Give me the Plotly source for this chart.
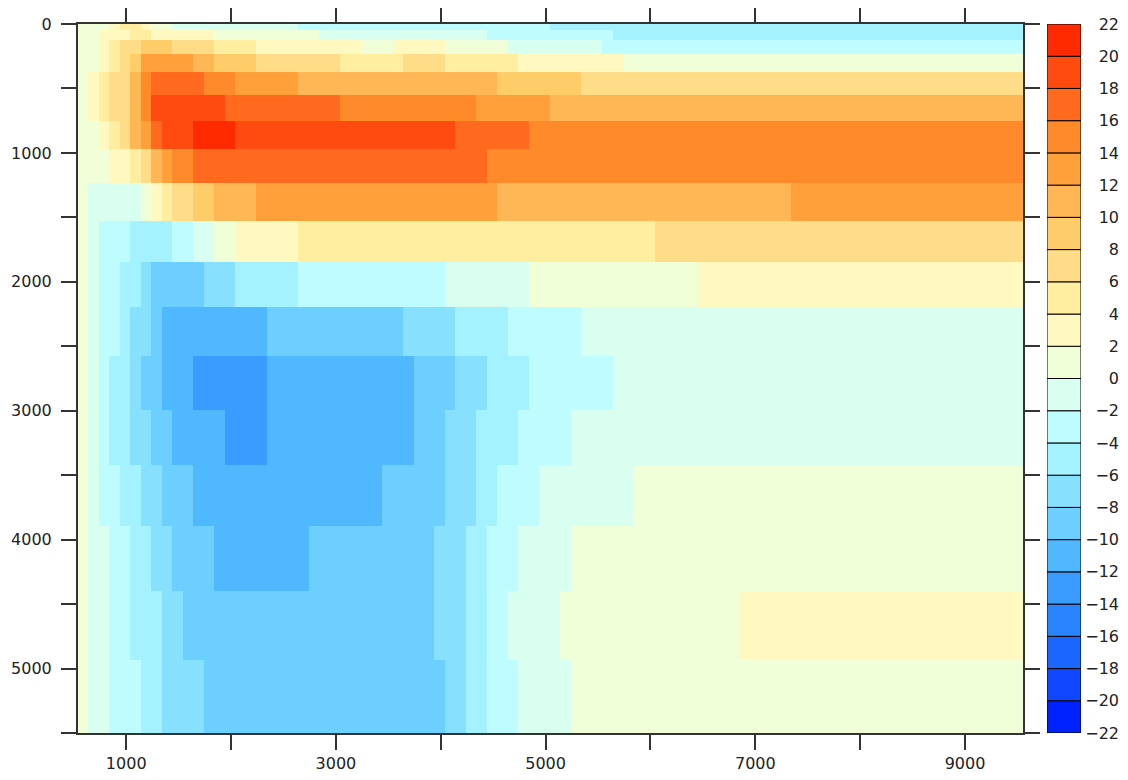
import plotly.graph_objects as go

# grid cell edges: distance (x) and depth (y)
dist_edges = list(range(540, 9441, 100)) + [9555]
depth_edges = [0, 46, 126, 232, 372, 548, 749, 973, 1233, 1526, 1844,
               2198, 2578, 2992, 3424, 3897, 4401, 4931, 5500]

# each depth row: (first column index, contour-bin midpoint) runs
rows = [
    [(0, 1), (3, 3), (4, 5), (6, 3), (7, 1), (9, -1), (21, -3), (45, -5)],
    [(0, 1), (2, 3), (5, 5), (7, 3), (13, 1), (23, -1), (39, -3), (51, -5)],
    [(0, 1), (2, 3), (3, 5), (4, 7), (6, 9), (9, 7), (13, 5), (17, 3), (27, 1),
     (30, 3), (35, 1), (41, -1), (50, -3)],
    [(0, 1), (2, 3), (3, 5), (4, 7), (5, 9), (6, 13), (11, 11), (13, 9), (17, 7),
     (25, 5), (31, 7), (35, 5), (42, 3), (52, 1)],
    [(0, 1), (1, 3), (2, 5), (3, 7), (5, 11), (6, 15), (7, 17), (12, 15), (15, 13),
     (21, 11), (40, 9), (48, 7)],
    [(0, 1), (1, 3), (2, 5), (3, 7), (5, 11), (6, 15), (7, 19), (14, 17), (25, 15),
     (38, 13), (45, 11)],
    [(0, 1), (2, 3), (3, 5), (4, 7), (5, 11), (6, 13), (7, 17), (8, 19), (11, 21),
     (15, 19), (36, 17), (43, 15)],
    [(0, 1), (3, 3), (5, 5), (6, 7), (7, 11), (8, 13), (9, 15), (11, 17), (39, 15)],
    [(0, 1), (1, -1), (6, 1), (7, 3), (8, 5), (9, 7), (11, 9), (13, 11), (17, 13),
     (40, 11), (68, 13)],
    [(0, 1), (1, -1), (2, -3), (5, -5), (9, -3), (11, -1), (13, 1), (15, 3), (21, 5),
     (55, 7)],
    [(0, 1), (1, -1), (2, -3), (4, -5), (6, -7), (7, -9), (12, -7), (15, -5), (21, -3),
     (35, -1), (43, 1), (59, 3)],
    [(0, 1), (1, -1), (2, -3), (4, -5), (5, -7), (7, -9), (8, -11), (18, -9), (31, -7),
     (36, -5), (41, -3), (48, -1)],
    [(0, 1), (1, -1), (2, -3), (3, -5), (5, -7), (6, -9), (8, -11), (11, -13), (18, -11),
     (32, -9), (36, -7), (39, -5), (43, -3), (51, -1)],
    [(0, 1), (1, -1), (2, -3), (3, -5), (5, -7), (7, -9), (9, -11), (14, -13), (18, -11),
     (32, -9), (35, -7), (38, -5), (42, -3), (47, -1)],
    [(0, 1), (1, -1), (2, -3), (4, -5), (6, -7), (8, -9), (11, -11), (29, -9), (35, -7),
     (38, -5), (40, -3), (44, -1), (53, 1)],
    [(0, 1), (1, -1), (3, -3), (5, -5), (7, -7), (9, -9), (13, -11), (22, -9), (34, -7),
     (37, -5), (39, -3), (42, -1), (47, 1)],
    [(0, 1), (1, -1), (3, -3), (5, -5), (8, -7), (10, -9), (34, -7), (37, -5), (39, -3),
     (41, -1), (46, 1), (63, 3)],
    [(0, 1), (1, -1), (3, -3), (6, -5), (8, -7), (12, -9), (35, -7), (37, -5), (39, -3),
     (42, -1), (47, 1)],
]

# contour levels and fill colours (bins of 2 from -22 to 22)
levels = list(range(-22, 23, 2))
colors = ['#0022FF', '#1046FF', '#1A66FF', '#2A84FF', '#3A9CFF', '#50B8FF',
          '#6DCFFF', '#88E0FF', '#A4F2FF', '#BFFCFF', '#D8FFF0', '#F0FFD8',
          '#FFF8C0', '#FFEDA0', '#FFDD88', '#FFCC6A', '#FFB655', '#FFA03A',
          '#FF8A2A', '#FF6A1E', '#FF4A10', '#FF2A00']

ncol = len(dist_edges) - 1
z = []
for runs in rows:
    line = []
    for i, (start, val) in enumerate(runs):
        end = runs[i + 1][0] if i + 1 < len(runs) else ncol
        line += [val] * (end - start)
    z.append(line)

nb = len(colors)
cscale = []
for i, c in enumerate(colors):
    cscale.append([i / nb, c])
    cscale.append([(i + 1) / nb, c])

fig = go.Figure()
fig.add_trace(go.Heatmap(x=dist_edges, y=depth_edges, z=z, zmin=-22, zmax=22,
                         colorscale=cscale, showscale=False, hoverinfo='skip'))

# label bar drawn as stacked boxes
fig.add_trace(go.Bar(x=[0] * nb, y=[2] * nb, base=levels[:-1], width=1,
                     marker=dict(color=colors, line=dict(color='black', width=1)),
                     xaxis='x2', yaxis='y2', showlegend=False, hoverinfo='skip'))

font = dict(family='DejaVu Sans', size=16, color='#222')
axis_style = dict(ticks='outside', ticklen=15, tickwidth=2, tickcolor='#333',
                  showline=True, linewidth=2, linecolor='#333', mirror='ticks',
                  showgrid=False, zeroline=False, tickfont=font, automargin=False)

# page body adds 8px offset, so margins are set 8px smaller
L, R, T, B = 70, 17, 16, 55
W_PAPER = 1128 - L - R
fig.update_layout(
    width=1128, height=780,
    margin=dict(l=L, r=R, t=T, b=B),
    paper_bgcolor='white', plot_bgcolor='white',
    barmode='overlay', showlegend=False,
    xaxis=dict(domain=[0, 945 / W_PAPER], range=[540, 9553],
               tickvals=list(range(1000, 9001, 1000)),
               ticktext=['1000', '', '3000', '', '5000', '', '7000', '', '9000'],
               **axis_style),
    yaxis=dict(range=[5500, 0], tickvals=list(range(0, 5501, 500)),
               ticktext=[str(v) if v % 1000 == 0 else '' for v in range(0, 5501, 500)],
               ticklabelstandoff=6, **axis_style),
    xaxis2=dict(domain=[(1039 - L) / W_PAPER, (1073 - L) / W_PAPER],
                range=[-0.5, 0.5], visible=False, anchor='y2', automargin=False),
    yaxis2=dict(range=[-22, 22], anchor='free', position=1, side='left',
                tickvals=levels, ticktext=[str(v).replace('-', '\u2212') for v in levels],
                ticks='', showline=False, showgrid=False, zeroline=False,
                tickfont=font, automargin=False),
)

fig.write_html("out.html")
